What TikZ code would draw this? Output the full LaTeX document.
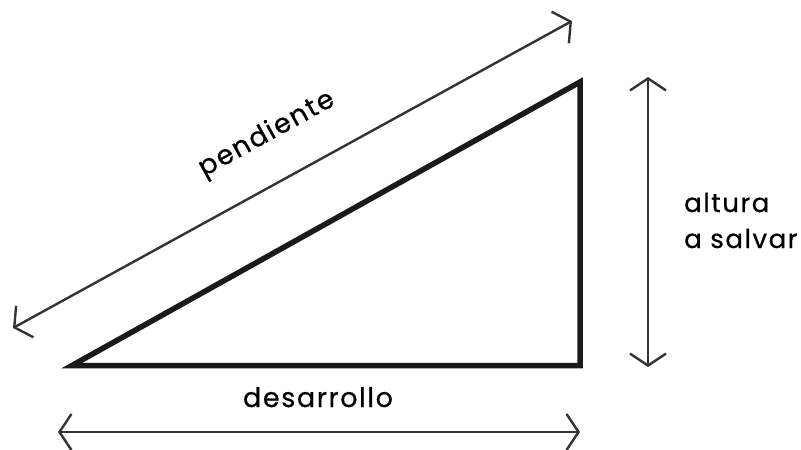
\documentclass[tikz,border=0pt]{standalone}
\usepackage{fontspec}
\newfontfamily\lblfont{Poppins}[FakeBold=0.6, LetterSpace=6]
\usetikzlibrary{arrows.meta}
\definecolor{arrowgray}{HTML}{333333}
\definecolor{trigray}{HTML}{1A1A1A}
\tikzset{
  dim/.style={draw=arrowgray, line width=2.4pt, {Straight Barb[length=12pt,width=36pt]}-{Straight Barb[length=12pt,width=36pt]}},
  tri/.style={draw=trigray, line width=5.5pt, line join=miter},
  lbl/.style={font=\lblfont\fontsize{27}{36}\selectfont, text=black, inner sep=0pt},
  sidelbl/.style={lbl, font=\lblfont\fontsize{26}{36}\selectfont}
}
\begin{document}
\begin{tikzpicture}[x=1pt,y=-1pt]
\useasboundingbox (0,0) rectangle (801,450);
% triangle
\coordinate (A) at (72,365.5);
\coordinate (B) at (580,365.5);
\coordinate (C) at (580,82);
\draw[tri] (A) -- (B) -- (C) -- cycle;
% dimension arrows
\coordinate (d1) at (13,328);
\coordinate (d2) at (572,21);
\draw[dim] (d1) -- (d2);
\coordinate (v1) at (648,77);
\coordinate (v2) at (648,367);
\draw[dim] (v1) -- (v2);
\coordinate (h1) at (58,432);
\coordinate (h2) at (580,432);
\draw[dim] (h1) -- (h2);
% labels
\node[lbl, anchor=base west, rotate=28.8] (pend) at (204,177) {pendiente};
\node[lbl, anchor=base] (des) at (318,407) {desarrollo};
\node[sidelbl, anchor=base west, align=left] (alt) at (684,248) {altura\\a salvar};
\end{tikzpicture}
\end{document}
